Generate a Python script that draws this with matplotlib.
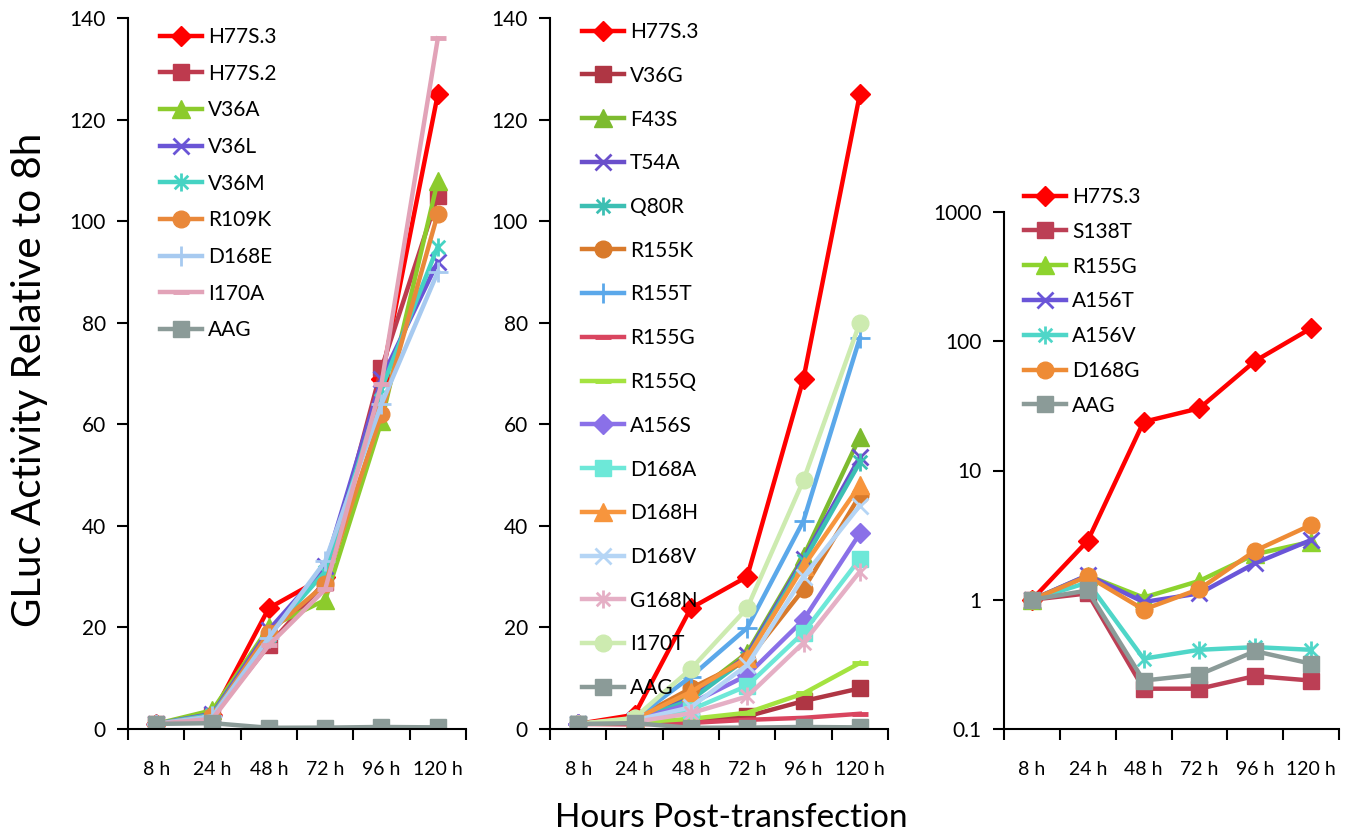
import matplotlib
matplotlib.use("Agg")
import matplotlib.pyplot as plt
from matplotlib.path import Path
import numpy as np

hours = ['8 h', '24 h', '48 h', '72 h', '96 h', '120 h']

# Panel 1
p1_labels = ['H77S.3', 'H77S.2', 'V36A', 'V36L', 'V36M', 'R109K', 'D168E', 'I170A', 'AAG']
p1_values = [
    [1, 2.8, 23.8, 30, 69, 125],
    [1, 2.5, 16.5, 29, 71, 105],
    [1, 3.7, 20, 25.4, 60.6, 108],
    [1, 3.0, 19.5, 32, 69, 92],
    [1, 2.8, 18.5, 31, 67, 95],
    [1, 2.5, 19, 28.5, 62, 101.5],
    [1, 2.5, 18, 33, 64, 90],
    [1, 2.0, 16.5, 27.5, 68, 136],
    [1, 1.15, 0.24, 0.27, 0.4, 0.32],
]

# Panel 2
p2_labels = ['H77S.3', 'V36G', 'F43S', 'T54A', 'Q80R', 'R155K', 'R155T', 'R155G',
             'R155Q', 'A156S', 'D168A', 'D168H', 'D168V', 'G168N', 'I170T', 'AAG']
p2_values = [
    [1, 2.8, 23.8, 30, 69, 125],
    [1, 1.1, 1.5, 2.5, 5.5, 8],
    [1, 1.8, 6.5, 15, 34, 57.5],
    [1, 1.8, 6, 14.5, 33.5, 53.5],
    [1, 1.8, 5.7, 14, 33, 52.5],
    [1, 2.0, 8, 13.5, 27.5, 46],
    [1, 2.0, 10.3, 19.9, 41, 77],
    [1, 0.9, 1.2, 1.8, 2.2, 3],
    [1, 1.3, 2, 3.2, 7, 13],
    [1, 1.7, 5, 10.6, 21.5, 38.5],
    [1, 1.5, 3.8, 8.5, 19, 33.5],
    [1, 1.9, 7.3, 14, 32, 48],
    [1, 1.7, 4.3, 12.6, 30, 44],
    [1, 1.4, 3.1, 6.4, 17, 31],
    [1, 2.2, 11.8, 23.8, 49, 80],
    [1, 1.15, 0.24, 0.27, 0.4, 0.32],
]

# Panel 3 (log scale)
p3_labels = ['H77S.3', 'S138T', 'R155G', 'A156T', 'A156V', 'D168G', 'AAG']
p3_values = [
    [1, 2.86, 23.8, 30.3, 70.5, 126],
    [1, 1.12, 0.205, 0.205, 0.257, 0.237],
    [1, 1.54, 1.04, 1.4, 2.25, 2.81],
    [1, 1.55, 0.96, 1.12, 1.92, 2.9],
    [1, 1.36, 0.35, 0.41, 0.43, 0.41],
    [1, 1.52, 0.84, 1.21, 2.4, 3.79],
    [1, 1.18, 0.237, 0.264, 0.40, 0.32],
]

y_label = 'GLuc Activity Relative to 8h'
x_label = 'Hours Post-transfection'

# ---- styles ----
AST = Path([(0, -1), (0, 1), (-0.75, -0.75), (0.75, 0.75), (-0.75, 0.75), (0.75, -0.75)],
           [Path.MOVETO, Path.LINETO, Path.MOVETO, Path.LINETO, Path.MOVETO, Path.LINETO])

def mk(name):
    return {
        'D': dict(marker='D', ms=10),
        's': dict(marker='s', ms=12),
        '^': dict(marker='^', ms=13),
        'x': dict(marker='x', ms=12, mew=2),
        '*': dict(marker=AST, ms=13, mew=2),
        'o': dict(marker='o', ms=12),
        '+': dict(marker='+', ms=15, mew=2),
        '_': dict(marker='_', ms=12, mew=3.5),
    }[name]

p1_style = [('#FF0000', 'D'), ('#BE3A4E', 's'), ('#8CCB2C', '^'), ('#6A55D6', 'x'),
            ('#45D3C3', '*'), ('#E9883A', 'o'), ('#A7CAF0', '+'), ('#E2A3B8', '_'),
            ('#8B9B98', 's')]
p2_style = [('#FF0000', 'D'), ('#AF3644', 's'), ('#7DBB2F', '^'), ('#6A4FCB', 'x'),
            ('#3CBFB3', '*'), ('#D97A2B', 'o'), ('#5BA8EA', '+'), ('#D9455F', '_'),
            ('#A4E340', '_'), ('#8A70E8', 'D'), ('#6DE8D8', 's'), ('#F7953D', '^'),
            ('#B5D5F5', 'x'), ('#E5AFC5', '*'), ('#CDEBB0', 'o'), ('#8B9B98', 's')]
p3_style = [('#FF0000', 'D'), ('#BC3F55', 's'), ('#8DD32E', '^'), ('#6A55D8', 'x'),
            ('#4FD6C8', '*'), ('#EE8B35', 'o'), ('#8B9B98', 's')]

plt.rcParams['font.family'] = ['Lato', 'DejaVu Sans']

fig = plt.figure(figsize=(13.5, 8.39), dpi=100)
W, H = 1350, 839

def axes_px(l, r, t, b):
    return fig.add_axes([l / W, (H - b) / H, (r - l) / W, (b - t) / H])

ax1 = axes_px(128, 466, 18, 729)
ax2 = axes_px(550, 888, 18, 729)
ax3 = axes_px(1004, 1339, 212, 729)

x = np.arange(len(hours))

def draw(ax, labels, values, styles):
    for lab, vals, (c, m) in zip(labels, values, styles):
        ax.plot(x, vals, color=c, lw=3.2, label=lab, **mk(m))
    ax.set_xlim(-0.5, len(hours) - 0.5)
    ax.set_xticks(x)
    ax.set_xticklabels(hours, fontsize=14)
    ax.set_xticks(np.arange(-0.5, len(hours)), minor=True)
    ax.tick_params(axis='x', which='major', length=0, pad=23)
    ax.tick_params(axis='x', which='minor', length=8, width=1.5, direction='out')
    ax.tick_params(axis='y', which='major', length=8, width=1.5, direction='out',
                   labelsize=15, pad=8)
    for s in ['top', 'right']:
        ax.spines[s].set_visible(False)
    for s in ['left', 'bottom']:
        ax.spines[s].set_linewidth(1.5)
    ax.set_facecolor('white')

draw(ax1, p1_labels, p1_values, p1_style)
draw(ax2, p2_labels, p2_values, p2_style)
draw(ax3, p3_labels, p3_values, p3_style)

for ax in (ax1, ax2):
    ax.set_ylim(0, 140)
    ax.set_yticks(np.arange(0, 141, 20))

ax3.set_yscale('log')
ax3.set_ylim(0.1, 1000)
ax3.set_yticks([0.1, 1, 10, 100, 1000])
ax3.set_yticklabels(['0.1', '1', '10', '100', '1000'])
ax3.yaxis.set_minor_locator(matplotlib.ticker.NullLocator())

def leg(ax, xpx, ypx, spacing):
    ax.legend(loc='upper left', bbox_to_anchor=(xpx / W, 1 - ypx / H),
              bbox_transform=fig.transFigure, frameon=False, fontsize=15,
              handlelength=2.0, handletextpad=0.3, labelspacing=spacing,
              borderpad=0, borderaxespad=0, numpoints=1)

leg(ax1, 160, 27, 0.80)
leg(ax2, 582, 22, 1.14)
leg(ax3, 1024, 187, 0.71)

fig.text(30 / W, 1 - 380 / H, y_label, rotation=90, ha='center', va='center',
         fontsize=29)
fig.text(731 / W, 1 - 818 / H, x_label, ha='center', va='center',
         fontsize=24)

fig.savefig('out.png', dpi=100, facecolor='white')
